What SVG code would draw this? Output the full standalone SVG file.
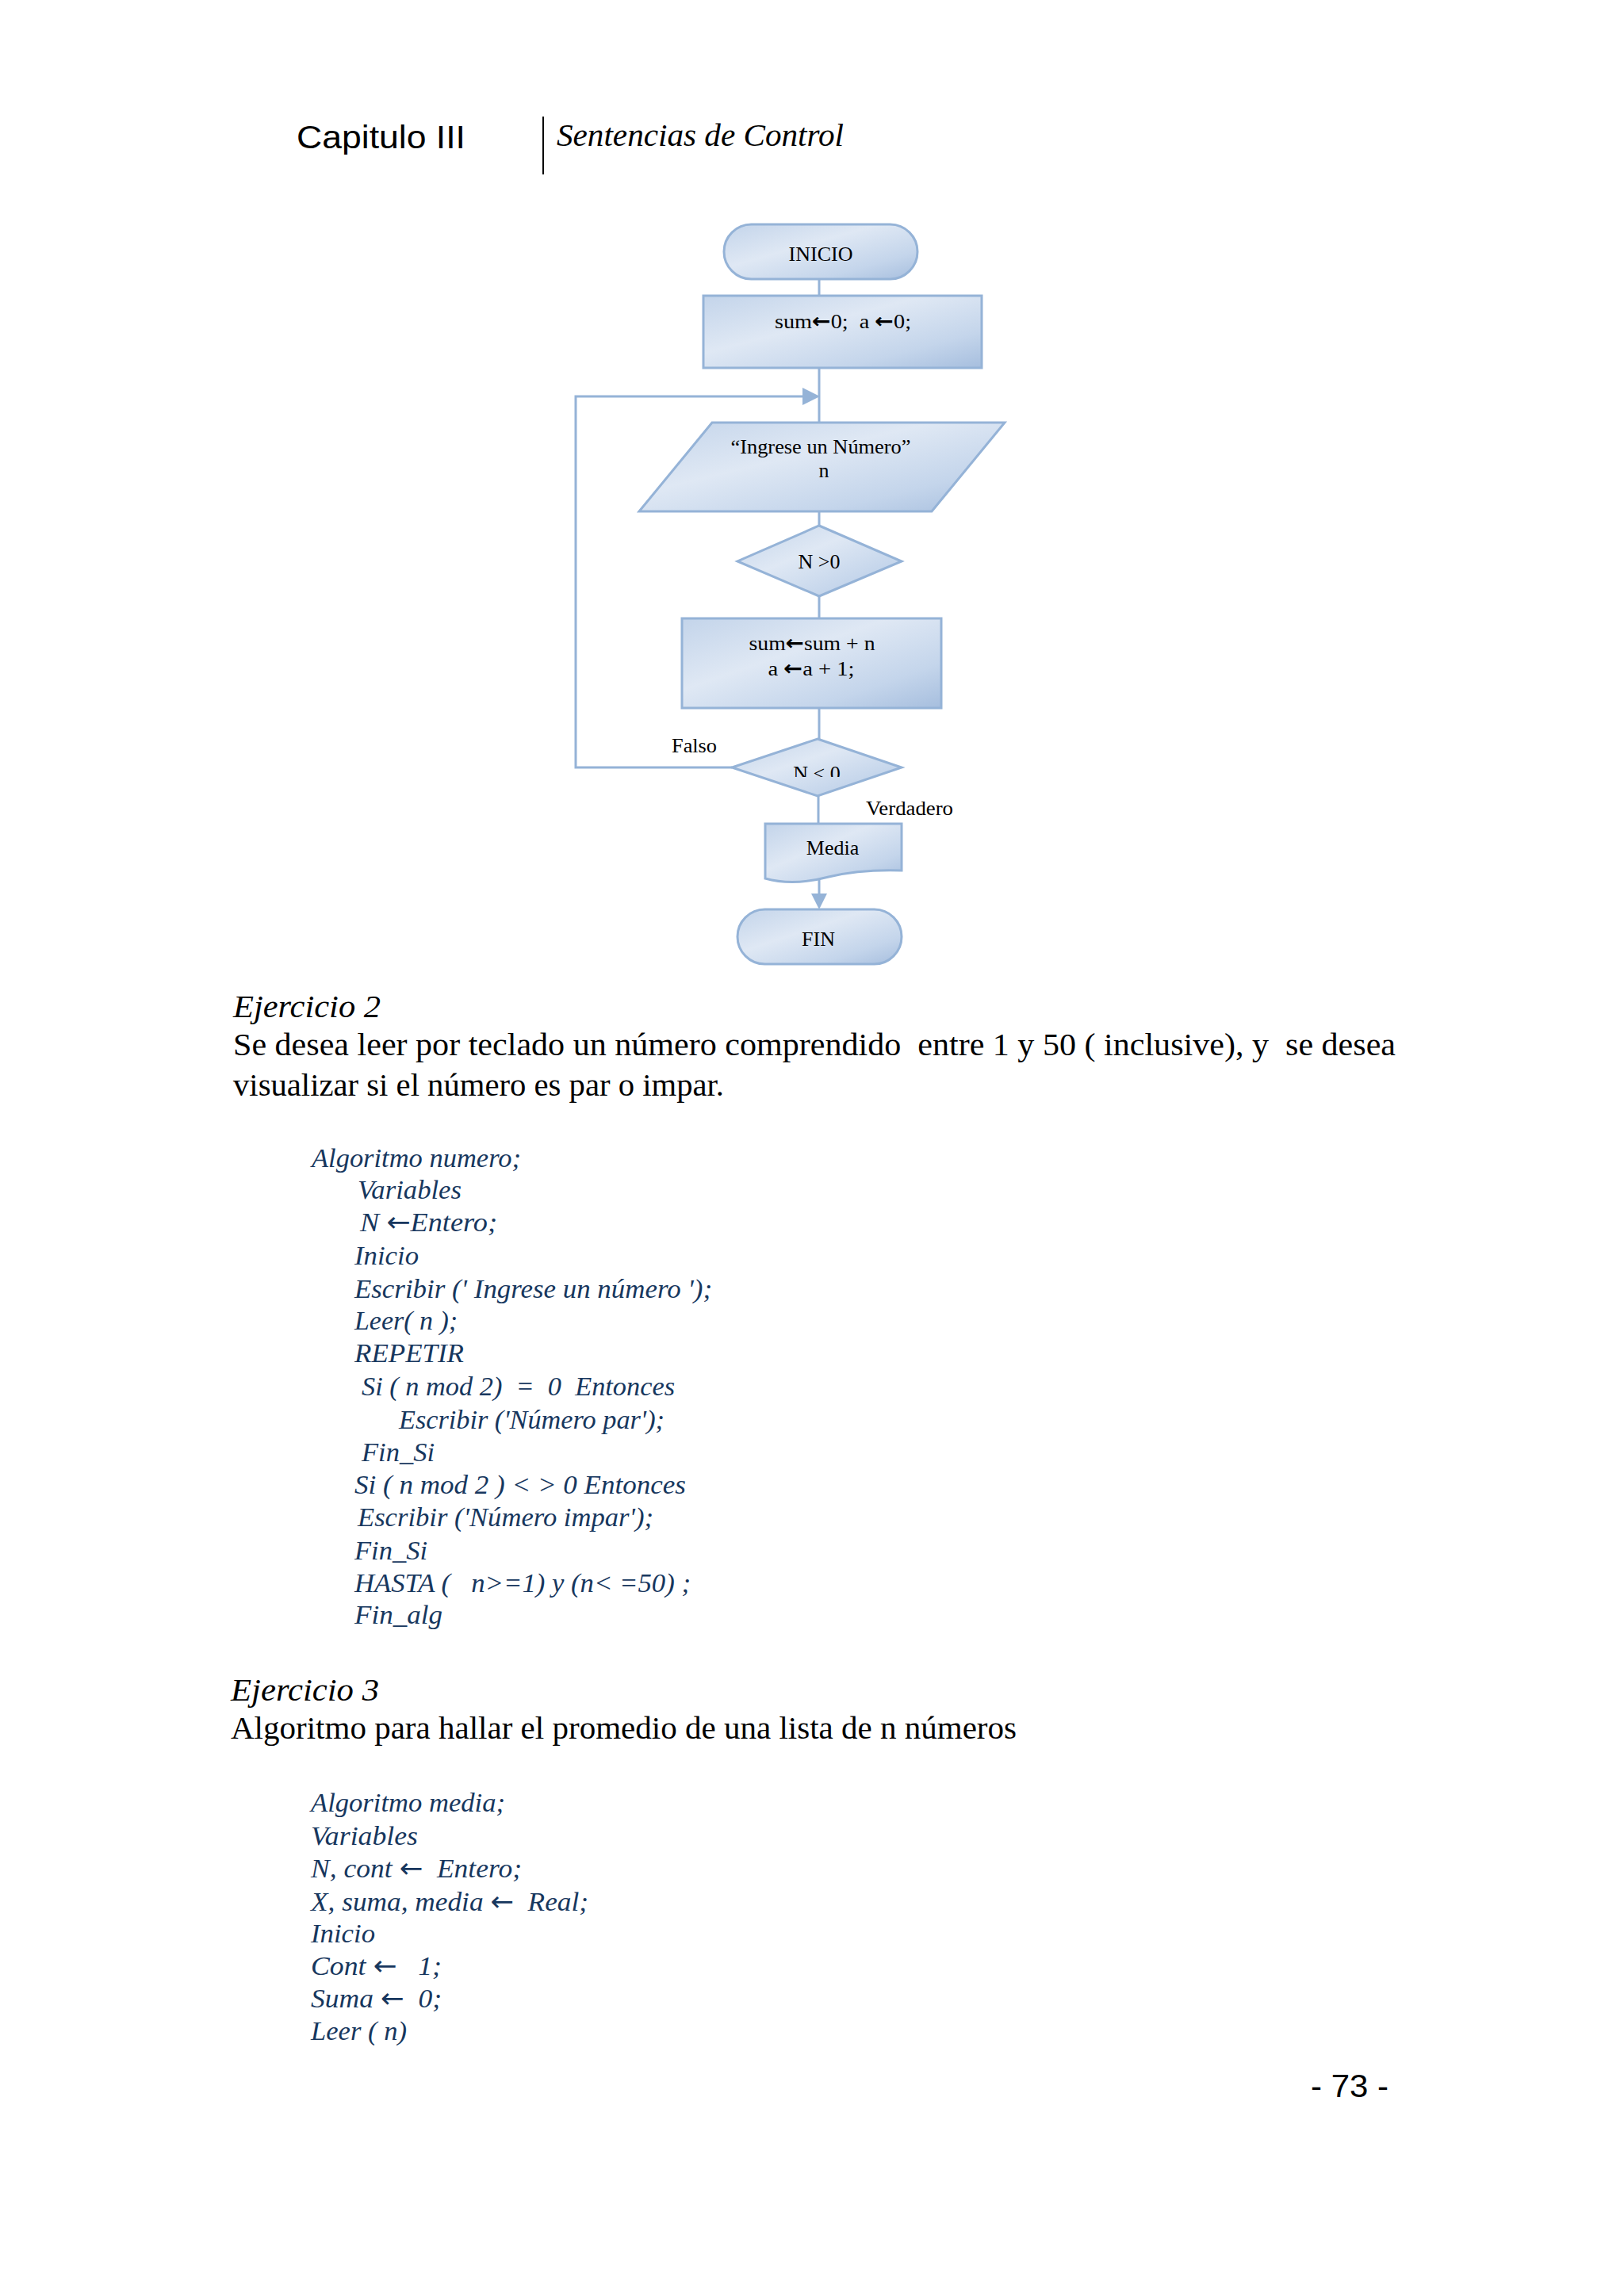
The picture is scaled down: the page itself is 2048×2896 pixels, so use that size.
<svg xmlns="http://www.w3.org/2000/svg" width="2048" height="2896" viewBox="0 0 2048 2896">
<defs>
<linearGradient id="g" x1="0" y1="0" x2="1" y2="1">
<stop offset="0" stop-color="#C3D4EA"/>
<stop offset="0.4" stop-color="#DFE8F4"/>
<stop offset="0.75" stop-color="#C4D5EB"/>
<stop offset="1" stop-color="#A6BEDE"/>
</linearGradient>
<clipPath id="clipN"><rect x="900" y="930" width="260" height="50"/></clipPath>
<style>
text{white-space:pre}
.shape{fill:url(#g);stroke:#95B3D7;stroke-width:3}
.conn{fill:none;stroke:#95B3D7;stroke-width:3}
.ah{fill:#95B3D7}
.fc{font-family:"Liberation Serif","Times New Roman",serif;font-size:26px;fill:#000;text-anchor:middle}
.lbl{font-family:"Liberation Serif","Times New Roman",serif;font-size:26px;fill:#000}
.body{font-family:"Liberation Serif","Times New Roman",serif;font-size:40px;fill:#000}
.head{font-family:"Liberation Serif","Times New Roman",serif;font-size:40px;font-style:italic;fill:#000}
.code{font-family:"Liberation Serif","Times New Roman",serif;font-size:34px;font-style:italic;fill:#17375E}
.sans{font-family:"Liberation Sans",Arial,sans-serif;font-size:40px;fill:#000}
.arb{font-family:"DejaVu Sans",sans-serif;font-weight:bold;font-style:normal}
.ar{font-family:"DejaVu Sans",sans-serif;font-style:normal}
</style>
</defs>
<rect width="2048" height="2896" fill="#fff"/>

<g id="header">
<text class="sans" x="374" y="187" textLength="213" lengthAdjust="spacingAndGlyphs">Capitulo III</text>
<line x1="685" y1="147" x2="685" y2="220" stroke="#000" stroke-width="2"/>
<text class="head" x="702" y="184" font-size="41" textLength="362" lengthAdjust="spacingAndGlyphs">Sentencias de Control</text>
</g>

<g id="connectors">
<line class="conn" x1="1033" y1="352" x2="1033" y2="373"/>
<line class="conn" x1="1033" y1="464" x2="1033" y2="533"/>
<line class="conn" x1="1033" y1="645" x2="1033" y2="663"/>
<line class="conn" x1="1033" y1="752" x2="1033" y2="780"/>
<line class="conn" x1="1033" y1="893" x2="1033" y2="932"/>
<line class="conn" x1="1032" y1="1004" x2="1032" y2="1039"/>
<path class="conn" d="M923,968 H726 V500 H1014"/>
<polygon class="ah" points="1012,489 1034,500 1012,511"/>
<line class="conn" x1="1033" y1="1110" x2="1033" y2="1128"/>
<polygon class="ah" points="1023,1127 1033,1147 1043,1127"/>
<text class="lbl" x="847" y="949" textLength="57" lengthAdjust="spacingAndGlyphs">Falso</text>
<text class="lbl" x="1092" y="1028" textLength="110" lengthAdjust="spacingAndGlyphs">Verdadero</text>
</g>

<g id="inicio">
<rect class="shape" x="913" y="283" width="244" height="69" rx="34.5"/>
<text class="fc" x="1035" y="329" font-size="27">INICIO</text>
</g>

<g id="init">
<rect class="shape" x="887" y="373" width="351" height="91"/>
<text class="fc" x="1063" y="414" textLength="172" lengthAdjust="spacingAndGlyphs">sum<tspan class="arb">←</tspan>0;  a <tspan class="arb">←</tspan>0;</text>
</g>

<g id="input">
<polygon class="shape" points="898,533 1267,533 1175,645 806,645"/>
<text class="fc" x="1035" y="572" textLength="227" lengthAdjust="spacingAndGlyphs">“Ingrese un Número”</text>
<text class="fc" x="1039" y="602">n</text>
</g>

<g id="cond1">
<polygon class="shape" points="1033,663 1137,708 1033,752 930,708"/>
<text class="fc" x="1033" y="717">N &gt;0</text>
</g>

<g id="process">
<rect class="shape" x="860" y="780" width="327" height="113"/>
<text class="fc" x="1024" y="820" textLength="159" lengthAdjust="spacingAndGlyphs">sum<tspan class="arb">←</tspan>sum + n</text>
<text class="fc" x="1023" y="852" textLength="109" lengthAdjust="spacingAndGlyphs">a <tspan class="arb">←</tspan>a + 1;</text>
</g>

<g id="cond2">
<polygon class="shape" points="1031,932 1137,968 1031,1004 923,968"/>
<text class="fc" x="1030" y="984" clip-path="url(#clipN)">N &lt; 0</text>
</g>

<g id="media">
<path class="shape" d="M965,1039 H1137 V1098 C1105,1097 1070,1100 1045,1106 C1015,1114 990,1115 965,1108 Z"/>
<text class="fc" x="1050" y="1078">Media</text>
</g>

<g id="fin">
<rect class="shape" x="930" y="1147" width="207" height="69" rx="34.5"/>
<text class="fc" x="1032" y="1193" font-size="27">FIN</text>
</g>

<g id="ejercicio2">
<text class="head" x="294" y="1283" textLength="186" lengthAdjust="spacingAndGlyphs">Ejercicio 2</text>
<text class="body" x="294" y="1331" textLength="1466" lengthAdjust="spacingAndGlyphs">Se desea leer por teclado un número comprendido  entre 1 y 50 ( inclusive), y  se desea</text>
<text class="body" x="294" y="1382" textLength="619" lengthAdjust="spacingAndGlyphs">visualizar si el número es par o impar.</text>
</g>

<g id="code1">
<text class="code" x="393" y="1472" textLength="264" lengthAdjust="spacingAndGlyphs">Algoritmo numero;</text>
<text class="code" x="451" y="1512" textLength="131" lengthAdjust="spacingAndGlyphs">Variables</text>
<text class="code" x="454" y="1553" textLength="173" lengthAdjust="spacingAndGlyphs">N <tspan class="ar">←</tspan>Entero;</text>
<text class="code" x="447" y="1595" textLength="81" lengthAdjust="spacingAndGlyphs">Inicio</text>
<text class="code" x="447" y="1637" textLength="451" lengthAdjust="spacingAndGlyphs">Escribir (' Ingrese un número ');</text>
<text class="code" x="447" y="1677" textLength="130" lengthAdjust="spacingAndGlyphs">Leer( n );</text>
<text class="code" x="447" y="1718" textLength="138" lengthAdjust="spacingAndGlyphs">REPETIR</text>
<text class="code" x="456" y="1760" textLength="395" lengthAdjust="spacingAndGlyphs">Si ( n mod 2)  =  0  Entonces</text>
<text class="code" x="503" y="1802" textLength="335" lengthAdjust="spacingAndGlyphs">Escribir ('Número par');</text>
<text class="code" x="456" y="1843" textLength="92" lengthAdjust="spacingAndGlyphs">Fin_Si</text>
<text class="code" x="447" y="1884" textLength="418" lengthAdjust="spacingAndGlyphs">Si ( n mod 2 ) &lt; &gt; 0 Entonces</text>
<text class="code" x="451" y="1925" textLength="373" lengthAdjust="spacingAndGlyphs">Escribir ('Número impar');</text>
<text class="code" x="447" y="1967" textLength="92" lengthAdjust="spacingAndGlyphs">Fin_Si</text>
<text class="code" x="447" y="2008" textLength="424" lengthAdjust="spacingAndGlyphs">HASTA (   n&gt;=1) y (n&lt; =50) ;</text>
<text class="code" x="447" y="2048" textLength="111" lengthAdjust="spacingAndGlyphs">Fin_alg</text>
</g>

<g id="ejercicio3">
<text class="head" x="291" y="2145" textLength="187" lengthAdjust="spacingAndGlyphs">Ejercicio 3</text>
<text class="body" x="291" y="2193" textLength="991" lengthAdjust="spacingAndGlyphs">Algoritmo para hallar el promedio de una lista de n números</text>
</g>

<g id="code3">
<text class="code" x="392" y="2285" textLength="245" lengthAdjust="spacingAndGlyphs">Algoritmo media;</text>
<text class="code" x="392" y="2327" textLength="135" lengthAdjust="spacingAndGlyphs">Variables</text>
<text class="code" x="392" y="2368" textLength="266" lengthAdjust="spacingAndGlyphs">N, cont <tspan class="ar">←</tspan>  Entero;</text>
<text class="code" x="392" y="2410" textLength="350" lengthAdjust="spacingAndGlyphs">X, suma, media <tspan class="ar">←</tspan>  Real;</text>
<text class="code" x="392" y="2450" textLength="81" lengthAdjust="spacingAndGlyphs">Inicio</text>
<text class="code" x="392" y="2491" textLength="165" lengthAdjust="spacingAndGlyphs">Cont <tspan class="ar">←</tspan>   1;</text>
<text class="code" x="392" y="2532" textLength="165" lengthAdjust="spacingAndGlyphs">Suma <tspan class="ar">←</tspan>  0;</text>
<text class="code" x="392" y="2573" textLength="121" lengthAdjust="spacingAndGlyphs">Leer ( n)</text>
</g>

<g id="pagenum">
<text class="sans" x="1653" y="2645" textLength="98" lengthAdjust="spacingAndGlyphs">- 73 -</text>
</g>
</svg>
